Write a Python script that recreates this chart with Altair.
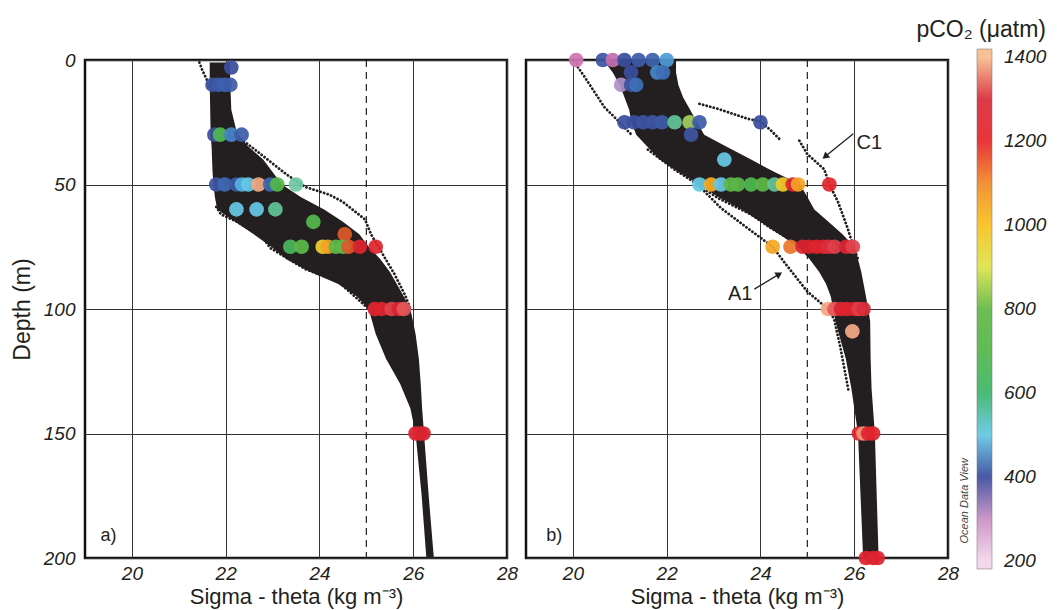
import altair as alt
import pandas as pd

FONT = "Liberation Sans"
INK = "#231f20"

# ---------------- data ----------------
# Panel a: dense envelope of the sigma-theta profiles
A_ENV_DEPTH = [1, 10, 20, 30, 35, 40, 45, 50, 55, 60, 65, 70, 75, 80, 85, 90, 95, 100, 110, 120, 130, 140, 150, 175, 200]
A_ENV_LEFT = [21.66, 21.66, 21.67, 21.68, 21.70, 21.71, 21.72, 21.74, 21.77, 21.82, 22.2, 22.6, 22.97, 23.3, 23.8, 24.4, 24.8, 25.05, 25.2, 25.42, 25.72, 25.94, 26.05, 26.18, 26.28]
A_ENV_RIGHT = [22.09, 22.10, 22.12, 22.25, 22.5, 22.8, 23.0, 23.2, 23.6, 24.1, 24.5, 24.85, 25.05, 25.3, 25.5, 25.65, 25.8, 25.94, 26.05, 26.12, 26.16, 26.19, 26.23, 26.33, 26.44]

# Panel a: individual dotted profiles at the edges
A_LINE1_SIGMA = [21.44, 21.5, 21.6, 21.66]
A_LINE1_DEPTH = [1, 4, 8, 12]
A_LINE2_SIGMA = [22.2, 22.66, 23.3, 23.7, 24.2, 24.5, 24.97, 25.1, 25.35, 25.6, 25.83, 25.94]
A_LINE2_DEPTH = [30, 36.5, 46, 51, 54, 57, 64, 70, 78, 86, 94.6, 100]
A_LINE3_SIGMA = [21.8, 21.9, 22.25, 22.8, 22.95, 23.7, 24.4, 24.97, 25.05]
A_LINE3_DEPTH = [59, 62, 65, 71.5, 75.5, 84, 89, 98.6, 100]

# Panel a: pCO2 samples
A_PT_SIGMA = [22.12,
              21.72, 21.85, 21.98, 22.1,
              21.76, 21.88, 22.12, 22.34,
              21.8, 21.98, 22.23, 22.35, 22.48, 22.7, 22.95, 23.1, 23.5,
              22.23, 22.66, 23.06,
              23.87, 24.54,
              23.38, 23.62, 24.07, 24.18, 24.35, 24.5, 24.62, 24.86, 25.2,
              25.18, 25.33, 25.54, 25.69, 25.8,
              26.05, 26.15, 26.22]
A_PT_DEPTH = [3,
              10, 10, 10, 10,
              30, 30, 30, 30,
              50, 50, 50, 50, 50, 50, 50, 50, 50,
              60, 60, 60,
              65, 70,
              75, 75, 75, 75, 75, 75, 75, 75, 75,
              100, 100, 100, 100, 100,
              150, 150, 150]
A_PT_PCO2 = [400,
             410, 420, 430, 420,
             400, 680, 460, 420,
             410, 440, 420, 480, 500, 1390, 440, 690, 560,
             500, 500, 570,
             690, 1150,
             650, 760, 960, 1060, 740, 760, 1150, 1240, 1230,
             1230, 1240, 1340, 1260, 1350,
             1250, 1230, 1270]

# Panel b: dense envelope
B_ENV_DEPTH = [0, 5, 10, 15, 20, 25, 30, 35, 40, 45, 50, 55, 60, 65, 70, 75, 80, 85, 90, 95, 100, 105, 120, 132, 150, 200]
B_ENV_LEFT = [20.65, 20.85, 21.0, 21.1, 21.2, 21.25, 21.35, 21.6, 21.85, 22.25, 22.7, 23.1, 23.6, 24.0, 24.4, 24.8, 25.05, 25.25, 25.4, 25.5, 25.55, 25.6, 25.82, 25.94, 26.08, 26.19]
B_ENV_RIGHT = [22.2, 22.2, 22.25, 22.35, 22.5, 22.65, 22.8, 23.3, 23.8, 24.3, 24.85, 25.0, 25.15, 25.45, 25.75, 26.0, 26.08, 26.15, 26.2, 26.25, 26.3, 26.34, 26.35, 26.37, 26.44, 26.52]

# Panel b: individual dotted profiles
B_LINE1_SIGMA = [20.07, 20.1, 20.25, 20.67, 20.96, 21.25]
B_LINE1_DEPTH = [0, 2.7, 6.8, 18.9, 24.3, 30]
B_A1_SIGMA = [21.6, 22.17, 22.66, 23.16, 23.73, 24.26, 24.5, 25.0, 25.44, 25.57, 25.7, 25.88]
B_A1_DEPTH = [36, 44, 50, 59.5, 67.6, 75, 81, 93, 100, 104, 115, 133]
B_LINE3_SIGMA = [22.66, 23.09, 23.8, 24.23, 24.83]
B_LINE3_DEPTH = [50, 55.4, 62, 67.6, 74.3]
B_LINE4_SIGMA = [22.7, 23.09, 23.73, 24.0, 24.23, 24.44]
B_LINE4_DEPTH = [17.6, 19.6, 23.6, 24.7, 28.4, 32.4]
B_C1_SIGMA = [24.83, 25.0, 25.36, 25.47, 25.65, 25.86, 25.97, 26.08]
B_C1_DEPTH = [32.4, 37.8, 43.9, 50, 56.8, 67.6, 74.3, 80]

# Panel b: pCO2 samples
B_PT_SIGMA = [20.07, 20.64, 20.85, 21.1, 21.4, 21.7, 22.0,
              21.24, 21.8, 21.92,
              21.03, 21.24, 21.35,
              21.1, 21.3, 21.5, 21.7, 21.9, 22.17, 22.49, 22.7, 24.0,
              22.52, 23.23,
              22.7, 22.95, 23.16, 23.37, 23.52, 23.8, 24.05, 24.3, 24.48, 24.69, 24.8, 25.47,
              24.26, 24.64, 24.9, 25.04, 25.2, 25.35, 25.45, 25.58, 25.83, 25.97,
              25.44, 25.58, 25.72, 25.85, 26.0, 26.1, 26.2,
              25.96,
              26.1, 26.2, 26.3, 26.4,
              26.25, 26.4, 26.5]
B_PT_DEPTH = [0, 0, 0, 0, 0, 0, 0,
              5, 5, 5,
              10, 10, 10,
              25, 25, 25, 25, 25, 25, 25, 25, 25,
              30, 40,
              50, 50, 50, 50, 50, 50, 50, 50, 50, 50, 50, 50,
              75, 75, 75, 75, 75, 75, 75, 75, 75, 75,
              100, 100, 100, 100, 100, 100, 100,
              109,
              150, 150, 150, 150,
              200, 200, 200]
B_PT_PCO2 = [240, 410, 270, 400, 420, 430, 470,
             400, 460, 450,
             330, 410, 450,
             400, 400, 410, 410, 420, 570, 850, 420, 400,
             410, 500,
             500, 1040, 500, 760, 740, 680, 770, 570, 980, 1250, 1060, 1220,
             1050, 1120, 1250, 1280, 1230, 1240, 1300, 1330, 1240, 1340,
             1390, 1350, 1260, 1230, 1250, 1330, 1300,
             1390,
             1240, 1380, 1240, 1230,
             1240, 1250, 1240]

# colour scale (Ocean Data View style); the outer stops are the out-of-range end caps
CB_STOPS = [180, 200, 250, 300, 350, 380, 400, 450, 490, 540, 600, 700, 800, 850, 900, 1000, 1100, 1150, 1200, 1280, 1340, 1400, 1420]
CB_COLORS = ["#f3d6ea", "#f3d6ea", "#c35aa5", "#c98fc6", "#9c93c9", "#5d5ba8", "#3b4d9e", "#3e70b9", "#5cc6ee", "#88d1c1", "#3db66b",
             "#55b84a", "#62b946", "#a3cd5e", "#dde34c", "#f9c21f", "#f28a29", "#de5a2b", "#e7262b", "#d42231", "#e2434e",
             "#f8bd8e", "#f8bd8e"]
CB_TICKS = [200, 400, 600, 800, 1000, 1200, 1400]

X_TICKS = [20, 22, 24, 26, 28]
Y_TICKS = [0, 50, 100, 150, 200]
REF_SIGMA = [25]

# annotations (data units)
A_LABEL = {"text": ["a)"], "sigma": [19.33], "depth": [191]}
B_LABEL = {"text": ["b)"], "sigma": [19.43], "depth": [191]}
C1_NOTE = {"text": ["C1"], "sigma": [26.05], "depth": [33.5]}
A1_NOTE = {"text": ["A1"], "sigma": [23.83], "depth": [94]}
B_ARROW_X1 = [25.98, 23.87]
B_ARROW_Y1 = [29.6, 92]
B_ARROW_X2 = [25.38, 24.4]
B_ARROW_Y2 = [38.8, 86]
B_ARROW_ANGLE = [230, 59]


def lines_df(lines):
    rows = []
    for name, s, d in lines:
        for i, (si, di) in enumerate(zip(s, d)):
            rows.append({"line": name, "sigma": si, "depth": di, "idx": i})
    return pd.DataFrame(rows)


X_SCALE = alt.Scale(domain=[19, 28], nice=False, zero=False)
Y_SCALE = alt.Scale(domain=[0, 200], reverse=True, nice=False, zero=False)
C_SCALE = alt.Scale(domain=CB_STOPS, range=CB_COLORS, interpolate="rgb")

X_AXIS = alt.Axis(values=X_TICKS, grid=True, gridColor="#333333", gridWidth=1, ticks=False, domain=False,
                  labelFont=FONT, labelFontSize=19, labelFontStyle="italic", labelColor=INK, labelPadding=6,
                  title="Sigma - theta (kg m⁻³)", titleFont=FONT, titleFontSize=22, titleFontWeight="normal",
                  titleColor=INK, titlePadding=3, labelFlush=False)


def y_axis(show):
    if show:
        return alt.Axis(values=Y_TICKS, grid=True, gridColor="#333333", gridWidth=1, ticks=False, domain=False,
                        labelFont=FONT, labelFontSize=19, labelFontStyle="italic", labelColor=INK, labelPadding=10,
                        title="Depth (m)", titleFont=FONT, titleFontSize=23, titleFontWeight="normal",
                        titleColor=INK, titlePadding=9, labelFlush=False)
    return alt.Axis(values=Y_TICKS, grid=True, gridColor="#333333", gridWidth=1, ticks=False, domain=False,
                    labels=False, title=None, minExtent=0, maxExtent=0, labelPadding=0)


LEGEND = alt.Legend(orient="none", legendX=831, legendY=-41, direction="vertical",
                    gradientLength=520, gradientThickness=15, gradientStrokeColor="#666666", gradientStrokeWidth=0.5,
                    values=CB_TICKS, format="d", title="pCO₂ (μatm)", titleFont=FONT, titleFontSize=23,
                    titleFontWeight="normal", titleColor=INK, titlePadding=7, titleAnchor="end",
                    labelFont=FONT, labelFontSize=19, labelFontStyle="italic", labelColor=INK, labelOffset=12)


def text_layer(d, size, align):
    return alt.Chart(pd.DataFrame(d)).mark_text(font=FONT, fontSize=size, color=INK, align=align).encode(
        x=alt.X("sigma:Q", scale=X_SCALE), y=alt.Y("depth:Q", scale=Y_SCALE), text="text:N")


def panel(env_depth, env_left, env_right, lines, pt_s, pt_d, pt_c, show_y, label):
    env = pd.DataFrame({"depth": env_depth, "left": env_left, "right": env_right})
    area = alt.Chart(env).mark_area(orient="horizontal", color=INK).encode(
        y=alt.Y("depth:Q", scale=Y_SCALE, axis=y_axis(show_y)),
        x=alt.X("left:Q", scale=X_SCALE, axis=X_AXIS),
        x2="right:Q",
    )
    ld = lines_df(lines)
    dotted = alt.Chart(ld).mark_line(color=INK, strokeWidth=2.8, strokeDash=[0.1, 3.6], strokeCap="round").encode(
        x=alt.X("sigma:Q", scale=X_SCALE),
        y=alt.Y("depth:Q", scale=Y_SCALE),
        detail="line:N",
        order="idx:Q",
    )
    ref = alt.Chart(pd.DataFrame({"sigma": REF_SIGMA})).mark_rule(color=INK, strokeWidth=1.2, strokeDash=[7, 5]).encode(
        x=alt.X("sigma:Q", scale=X_SCALE))
    pts = pd.DataFrame({"sigma": pt_s, "depth": pt_d, "pco2": pt_c})
    circles = alt.Chart(pts).mark_circle(size=215, opacity=0.93).encode(
        x=alt.X("sigma:Q", scale=X_SCALE),
        y=alt.Y("depth:Q", scale=Y_SCALE),
        color=alt.Color("pco2:Q", scale=C_SCALE, legend=LEGEND),
    )
    lab = text_layer(label, 18, "left")
    return [area, dotted, ref, circles, lab]


a_layers = panel(A_ENV_DEPTH, A_ENV_LEFT, A_ENV_RIGHT,
                 [("l1", A_LINE1_SIGMA, A_LINE1_DEPTH), ("l2", A_LINE2_SIGMA, A_LINE2_DEPTH),
                  ("l3", A_LINE3_SIGMA, A_LINE3_DEPTH)],
                 A_PT_SIGMA, A_PT_DEPTH, A_PT_PCO2, True, A_LABEL)

b_layers = panel(B_ENV_DEPTH, B_ENV_LEFT, B_ENV_RIGHT,
                 [("l1", B_LINE1_SIGMA, B_LINE1_DEPTH), ("a1", B_A1_SIGMA, B_A1_DEPTH),
                  ("l3", B_LINE3_SIGMA, B_LINE3_DEPTH), ("l4", B_LINE4_SIGMA, B_LINE4_DEPTH),
                  ("c1", B_C1_SIGMA, B_C1_DEPTH)],
                 B_PT_SIGMA, B_PT_DEPTH, B_PT_PCO2, False, B_LABEL)

note_c1 = text_layer(C1_NOTE, 20, "left")
note_a1 = text_layer(A1_NOTE, 20, "right")
arrows = pd.DataFrame({"x1": B_ARROW_X1, "y1": B_ARROW_Y1, "x2": B_ARROW_X2, "y2": B_ARROW_Y2, "ang": B_ARROW_ANGLE})
arrow_lines = alt.Chart(arrows).mark_rule(color=INK, strokeWidth=1.3).encode(
    x=alt.X("x1:Q", scale=X_SCALE), y=alt.Y("y1:Q", scale=Y_SCALE), x2="x2:Q", y2="y2:Q")
arrow_heads = alt.Chart(arrows).mark_point(shape="triangle-up", filled=True, color=INK, size=60, opacity=1).encode(
    x=alt.X("x2:Q", scale=X_SCALE), y=alt.Y("y2:Q", scale=Y_SCALE), angle=alt.Angle("ang:Q", scale=None))
odv = alt.Chart(pd.DataFrame({"text": ["Ocean Data View"], "sigma": [28.36], "depth": [177]})).mark_text(
    font=FONT, fontSize=11, fontStyle="italic", color="#444444", angle=270).encode(
    x=alt.X("sigma:Q", scale=X_SCALE), y=alt.Y("depth:Q", scale=Y_SCALE), text="text:N")

W, H = 422, 498
panel_a = alt.layer(*a_layers).properties(width=W, height=H)
panel_b = alt.layer(*b_layers, arrow_lines, arrow_heads, note_c1, note_a1, odv).properties(width=W, height=H)

chart = alt.hconcat(panel_a, panel_b, spacing=5).properties(
    padding={"left": 2, "top": 11, "right": 0, "bottom": 5}
).configure_view(stroke="#111111", strokeWidth=2.5)

chart.save("out.html", embed_options={"renderer": "svg", "actions": False})
